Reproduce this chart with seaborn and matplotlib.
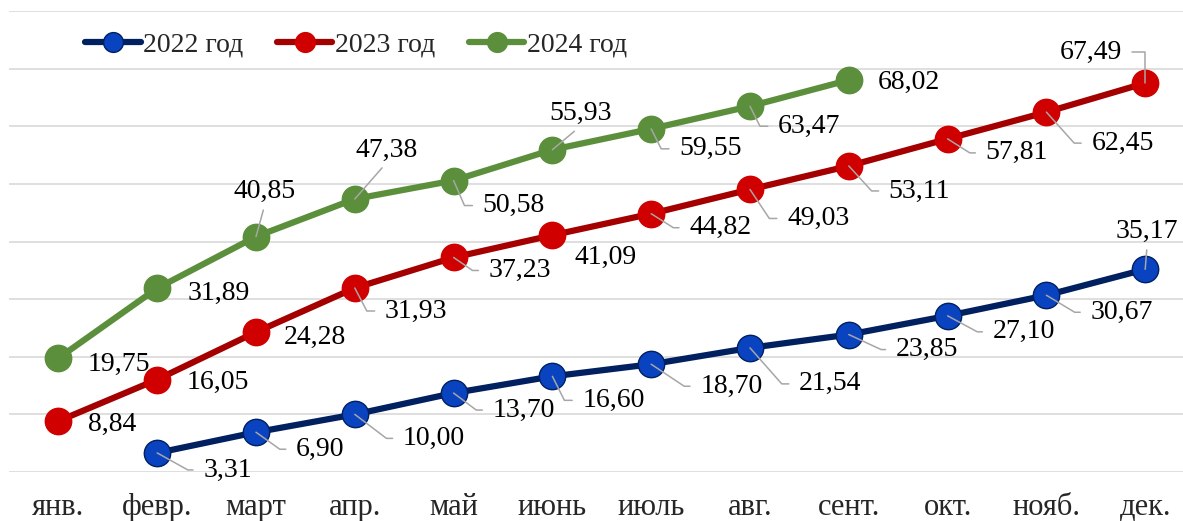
import math
import numpy as np
import pandas as pd
import matplotlib
matplotlib.use("Agg")
import matplotlib.pyplot as plt
import seaborn as sns

# ---------------- data ----------------
months = ['янв.', 'февр.', 'март', 'апр.', 'май', 'июнь', 'июль',
          'авг.', 'сент.', 'окт.', 'нояб.', 'дек.']
series_names = ['2022 год', '2023 год', '2024 год']
v2022 = [3.31, 6.90, 10.00, 13.70, 16.60, 18.70, 21.54, 23.85, 27.10, 30.67, 35.17]
v2023 = [8.84, 16.05, 24.28, 31.93, 37.23, 41.09, 44.82, 49.03, 53.11, 57.81, 62.45, 67.49]
v2024 = [19.75, 31.89, 40.85, 47.38, 50.58, 55.93, 59.55, 63.47, 68.02]
start_month = [1, 0, 0]  # 2022 series starts in February

# ---------------- label placement (pixels) ----------------
lab2022 = [('h', 46, -15), ('h', 40, -15), ('h', 48, -22), ('h', 39, -15), ('h', 30, -22),
           ('h', 49, -20), ('h', 49, -34), ('h', 47, -13), ('h', 45, -14), ('h', 44, -15),
           ('u', 2, 40)]
lab2023 = [('n', 30, -1), ('n', 29, -1), ('n', 28, -3), ('h', 30, -21), ('h', 35, -11),
           ('n', 22, -20), ('h', 38, -12), ('h', 37, -27), ('h', 40, -23), ('h', 38, -12),
           ('h', 45, -29), ('L', -23, 33)]
lab2024 = [('n', 29, -4), ('n', 30, -3), ('u', 9, 47), ('u', 32, 51), ('h', 29, -23),
           ('u', 28, 38), ('h', 28, -18), ('h', 28, -18), ('n', 29, 0)]

line_colors = ['#002060', '#A50000', '#5B8F3B']
face_colors = ['#0A43C0', '#D00000', '#5B8F3B']
edge_colors = ['#002060', '#D00000', '#5B8F3B']
leader_color = '#A6A6A6'

sns.set_theme(style='white')
plt.rcParams['font.family'] = ['Liberation Serif', 'DejaVu Serif']
FS = 20
FS_TICK = 22

W, H = 1183, 521
fig = plt.figure(figsize=(W / 100, H / 100), dpi=100)
ax_left, ax_right = 9 / W, 1.0
ax_bottom, ax_top = (H - 472) / H, (H - 11) / H
ax = fig.add_axes([ax_left, ax_bottom, ax_right - ax_left, ax_top - ax_bottom])

step_px = 98.8
ax.set_xlim(-0.5, -0.5 + (W - 9) / step_px)
ax.set_ylim(0, 80)

for y in range(0, 81, 10):
    ax.axhline(y, color='#D9D9D9', lw=1.2, zorder=0)

all_vals = [v2022, v2023, v2024]
all_labs = [lab2022, lab2023, lab2024]
for k, (name, vals) in enumerate(zip(series_names, all_vals)):
    xs = np.arange(start_month[k], start_month[k] + len(vals))
    df = pd.DataFrame({'month': xs, 'value': vals})
    sns.lineplot(data=df, x='month', y='value', ax=ax, color=line_colors[k],
                 lw=4.5, marker='o', markersize=19, markerfacecolor=face_colors[k],
                 markeredgecolor=edge_colors[k], markeredgewidth=1.0,
                 label=name, zorder=3 + k)

for k, vals in enumerate(all_vals):
    for j, (v, (kind, dx, dy)) in enumerate(zip(vals, all_labs[k])):
        x = start_month[k] + j
        txt = f"{v:.2f}".replace('.', ',')
        dyt = dy - 2
        common = dict(xy=(x, v), textcoords='offset pixels', fontsize=FS,
                      color='black', zorder=10)
        if kind == 'n':
            ax.annotate(txt, xytext=(dx, dyt), ha='left', va='center', **common)
        elif kind == 'h':
            ang = math.degrees(math.atan2(dy, dx - 19))
            ax.annotate(txt, xytext=(dx, dyt), ha='left', va='center',
                        arrowprops=dict(arrowstyle='-', color=leader_color, lw=1.1,
                                        shrinkA=5, shrinkB=0, relpos=(0, 0.5),
                                        connectionstyle=f'angle,angleA=0,angleB={ang},rad=0'),
                        **common)
        elif kind == 'u':
            ax.annotate(txt, xytext=(dx, dyt), ha='center', va='center',
                        arrowprops=dict(arrowstyle='-', color=leader_color, lw=1.1,
                                        shrinkA=2, shrinkB=0, relpos=(0.5, 0)),
                        **common)
        elif kind == 'L':
            ax.annotate(txt, xytext=(dx, dyt), ha='right', va='center',
                        arrowprops=dict(arrowstyle='-', color=leader_color, lw=1.1,
                                        shrinkA=5, shrinkB=0, relpos=(1, 0.5),
                                        connectionstyle='angle,angleA=0,angleB=90,rad=0'),
                        **common)

ax.set_xticks(range(len(months)))
ax.set_xticklabels(months, fontsize=FS_TICK)
ax.tick_params(axis='x', length=0, pad=15)
ax.set_yticks([])
ax.set_xlabel('')
ax.set_ylabel('')
for s in ax.spines.values():
    s.set_visible(False)

leg = ax.legend(loc='center left', bbox_to_anchor=(85 / W, 1 - 45 / H),
                bbox_transform=fig.transFigure, ncol=3, frameon=False,
                fontsize=FS, handlelength=2.0, handletextpad=0.1,
                columnspacing=1.2, borderpad=0, borderaxespad=0, markerscale=0.75)

fig.savefig('out.png', dpi=100)
